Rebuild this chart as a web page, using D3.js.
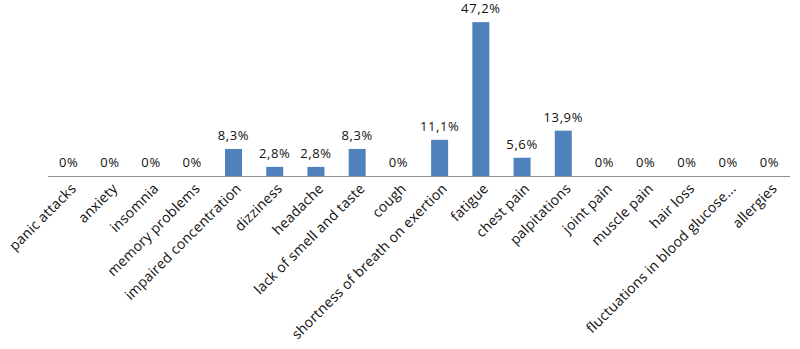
<!DOCTYPE html>
<html><head><meta charset="utf-8">
<script src="https://cdn.jsdelivr.net/npm/d3@7"></script>
<style>body{margin:0;background:#fff}svg{display:block}</style>
</head><body>
<svg id="c" width="800" height="349"></svg>
<script>
const categories = ["panic attacks","anxiety","insomnia","memory problems","impaired concentration","dizziness","headache","lack of smell and taste","cough","shortness of breath on exertion","fatigue","chest pain","palpitations","joint pain","muscle pain","hair loss","fluctuations in blood glucose...","allergies"];
const values = [0,0,0,0,8.3,2.8,2.8,8.3,0,11.1,47.2,5.6,13.9,0,0,0,0,0];
const valueLabels = ["0%","0%","0%","0%","8,3%","2,8%","2,8%","8,3%","0%","11,1%","47,2%","5,6%","13,9%","0%","0%","0%","0%","0%"];

const svg = d3.select("#c");
const font = "'Open Sans', sans-serif";
const xc = d3.scaleBand().domain(categories).range([48, 790]);
const y = d3.scaleLinear().domain([0, 50]).range([176, 13]);

svg.selectAll("rect.bar").data(categories).enter().append("rect")
  .attr("x", (d) => xc(d) + xc.bandwidth()/2 - 8.5)
  .attr("width", 17)
  .attr("y", (d,i) => y(values[i]))
  .attr("height", (d,i) => y(0) - y(values[i]))
  .attr("fill", "#4F81BD");

svg.append("line").attr("x1", 48).attr("x2", 790).attr("y1", y(0)+0.5).attr("y2", y(0)+0.5)
  .attr("stroke", "#8c8c8c").attr("stroke-width", 1);

svg.selectAll("text.val").data(categories).enter().append("text")
  .attr("x", (d) => xc(d) + xc.bandwidth()/2)
  .attr("y", (d,i) => y(values[i]) - 9)
  .attr("text-anchor", "middle")
  .attr("font-family", font).attr("font-size", 13).attr("letter-spacing", 0.6)
  .attr("fill", "#111")
  .text((d,i) => valueLabels[i]);

svg.selectAll("text.cat").data(categories).enter().append("text")
  .attr("transform", (d) => `translate(${xc(d) + xc.bandwidth()/2 + 5},${y(0) + 10}) rotate(-45)`)
  .attr("text-anchor", "end")
  .attr("dy", "0.35em")
  .attr("font-family", font).attr("font-size", 14).attr("letter-spacing", 0.2)
  .attr("fill", "#111")
  .text((d) => d);
</script>
</body></html>
